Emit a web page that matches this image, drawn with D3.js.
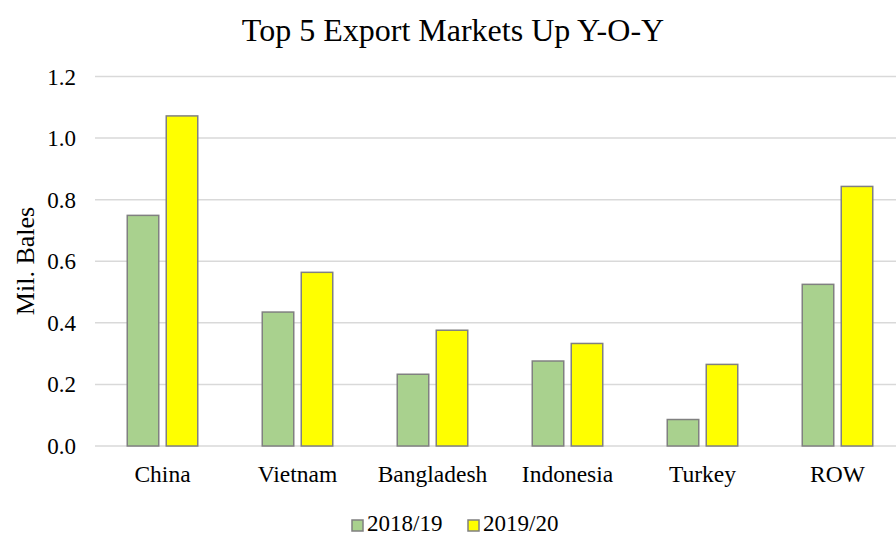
<!DOCTYPE html>
<html>
<head>
<meta charset="utf-8">
<script src="https://cdn.jsdelivr.net/npm/d3@7"></script>
<style>
  body { margin: 0; background: #fff; }
  text { font-family: "Liberation Serif", "Times New Roman", serif; fill: #000; }
</style>
</head>
<body>
<div class="canvas"></div>
<script>
// data
const markets = ["China", "Vietnam", "Bangladesh", "Indonesia", "Turkey", "ROW"];
const seasons = ["2018/19", "2019/20"];
const v2018 = [0.749, 0.435, 0.233, 0.276, 0.086, 0.525];
const v2019 = [1.072, 0.564, 0.376, 0.333, 0.265, 0.843];
const yTicks = [0, 0.2, 0.4, 0.6, 0.8, 1.0, 1.2];

const svgWidth = 896, svgHeight = 535;
const colors = { "2018/19": "#a9d18e", "2019/20": "#ffff00" };

const svg = d3.select(".canvas").append("svg")
  .attr("width", svgWidth)
  .attr("height", svgHeight);

// scales
const x = d3.scaleBand().domain(markets).range([95, 905]);
const y = d3.scaleLinear().domain([0, 1.2]).range([446, 76.5]);
const barW = 31.5, gap = 7.5;

// gridlines
svg.append("g")
  .selectAll("line")
  .data(yTicks)
  .join("line")
  .attr("x1", 95).attr("x2", svgWidth)
  .attr("y1", d => y(d)).attr("y2", d => y(d))
  .attr("stroke", "#d9d9d9")
  .attr("stroke-width", 1.5);

// y tick labels
svg.append("g")
  .selectAll("text")
  .data(yTicks)
  .join("text")
  .attr("x", 76)
  .attr("y", d => y(d))
  .attr("dy", "0.35em")
  .attr("text-anchor", "end")
  .style("font-size", "23px")
  .text(d => d3.format(".1f")(d));

// bars
const rows = markets.map((m, i) => ({ m, vals: [v2018[i], v2019[i]] }));
const groups = svg.append("g").selectAll("g")
  .data(rows)
  .join("g");

groups.selectAll("rect")
  .data(d => d.vals.map((v, j) => ({ m: d.m, v, s: seasons[j], j })))
  .join("rect")
  .attr("x", d => x(d.m) + x.bandwidth() / 2 + (d.j === 0 ? -gap / 2 - barW : gap / 2))
  .attr("y", d => y(d.v))
  .attr("width", barW)
  .attr("height", d => y(0) - y(d.v))
  .attr("fill", d => colors[d.s])
  .attr("stroke", "#808080")
  .attr("stroke-width", 1.5);

// x category labels
svg.append("g")
  .selectAll("text")
  .data(markets)
  .join("text")
  .attr("x", d => x(d) + x.bandwidth() / 2)
  .attr("y", 482)
  .attr("text-anchor", "middle")
  .style("font-size", "23.5px")
  .text(d => d);

// title
svg.append("text")
  .attr("x", 453)
  .attr("y", 41)
  .attr("text-anchor", "middle")
  .style("font-size", "32px")
  .text("Top 5 Export Markets Up Y-O-Y");

// y axis title
svg.append("text")
  .attr("transform", "translate(34, 261) rotate(-90)")
  .attr("text-anchor", "middle")
  .style("font-size", "26px")
  .text("Mil. Bales");

// legend
const legend = svg.append("g")
  .selectAll("g")
  .data(seasons)
  .join("g")
  .attr("transform", (d, i) => `translate(${352 + i * 116}, 520)`);

legend.append("rect")
  .attr("width", 11).attr("height", 11)
  .attr("fill", d => colors[d])
  .attr("stroke", "#808080")
  .attr("stroke-width", 1.5);

legend.append("text")
  .attr("x", 15)
  .attr("y", 11)
  .style("font-size", "23px")
  .text(d => d);
</script>
</body>
</html>
